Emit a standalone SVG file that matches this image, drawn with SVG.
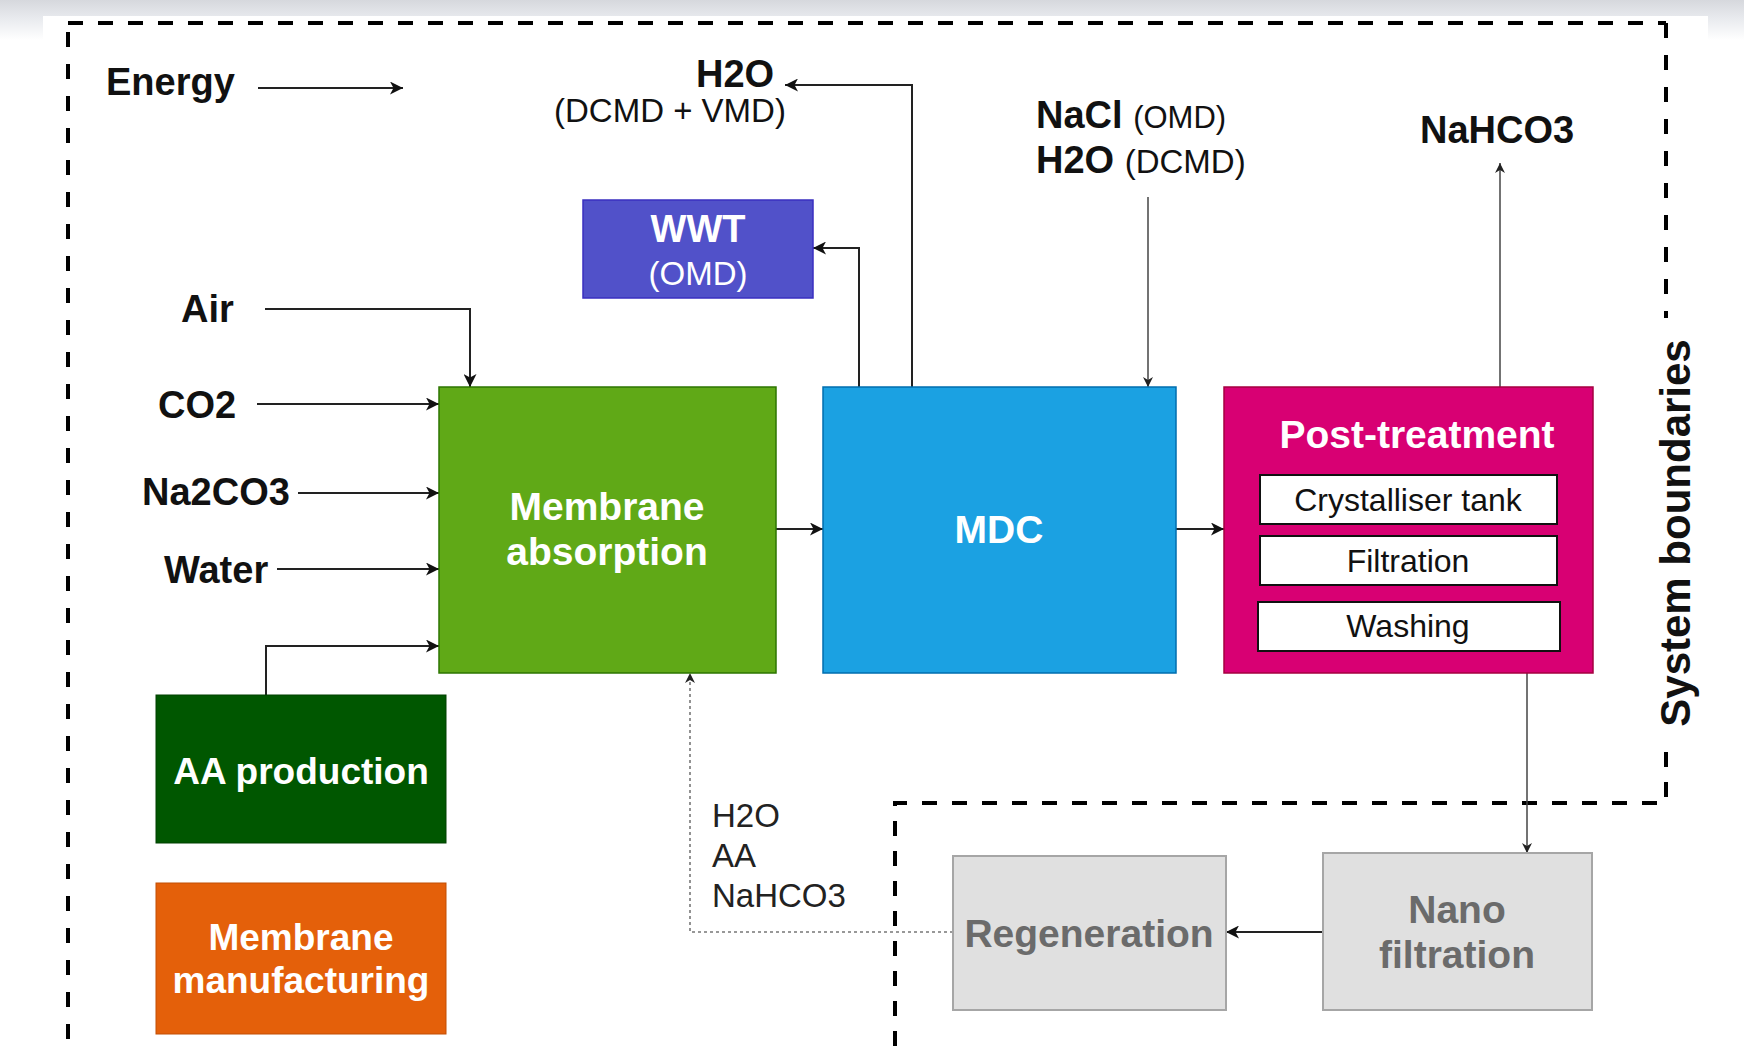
<svg xmlns="http://www.w3.org/2000/svg" width="1744" height="1047" viewBox="0 0 1744 1047">
  <defs>
    <linearGradient id="topband" x1="0" y1="0" x2="0" y2="1">
      <stop offset="0" stop-color="#d6d8dd"/>
      <stop offset="0.45" stop-color="#e8eaee"/>
      <stop offset="1" stop-color="#ffffff"/>
    </linearGradient>
    <marker id="arr" markerUnits="userSpaceOnUse" markerWidth="14" markerHeight="13" refX="13" refY="6.5" orient="auto">
      <path d="M0,0 L13,6.5 L0,13 L3.5,6.5 z" fill="#111"/>
    </marker>
    <marker id="arrs" markerUnits="userSpaceOnUse" markerWidth="11" markerHeight="10" refX="10" refY="5" orient="auto">
      <path d="M0,0 L10,5 L0,10 L3,5 z" fill="#222"/>
    </marker>
    <style>
      .lbl { font-family: "Liberation Sans", Arial, sans-serif; font-weight: bold; font-size: 38px; fill: #111; }
      .sub { font-family: "Liberation Sans", Arial, sans-serif; font-weight: normal; font-size: 33px; fill: #111; }
      .nt { font-family: "Liberation Sans", Arial, sans-serif; font-weight: bold; font-size: 39px; fill: #ffffff; text-anchor: middle; }
      .nt36 { font-size: 37px; }
      .nts { font-family: "Liberation Sans", Arial, sans-serif; font-weight: normal; font-size: 33px; fill: #ffffff; text-anchor: middle; }
      .inner { font-family: "Liberation Sans", Arial, sans-serif; font-size: 32px; fill: #111; text-anchor: middle; }
      .gt { font-family: "Liberation Sans", Arial, sans-serif; font-weight: bold; font-size: 39px; fill: #6b6b6b; text-anchor: middle; }
      .conn { fill: none; stroke: #222; stroke-width: 2; }
      .thin { fill: none; stroke: #444; stroke-width: 1.5; }
      .bnd { fill: none; stroke: #000; stroke-width: 4; }
    </style>
  </defs>

  <!-- background -->
  <rect x="0" y="0" width="1744" height="1047" fill="#ffffff"/>
  <rect x="0" y="0" width="1744" height="40" fill="url(#topband)"/>
  <rect x="43" y="16" width="1665" height="1031" fill="#ffffff"/>

  <!-- system boundary -->
  <g id="system-boundary">
    <path class="bnd" d="M68,23 H1666" stroke-dasharray="15 15"/>
    <path class="bnd" d="M68,32 V1047" stroke-dasharray="15 17"/>
    <path class="bnd" d="M1666,23 V318" stroke-dasharray="15 17"/>
    <path class="bnd" d="M1666,752 V803 H895 V1047" stroke-dasharray="15 15"/>
    <text x="1690" y="533" transform="rotate(-90 1690 533)" font-family="Liberation Sans, Arial, sans-serif" font-weight="bold" font-size="42" fill="#111" text-anchor="middle">System  boundaries</text>
  </g>

  <!-- connectors -->
  <g id="connectors">
    <path class="conn" d="M258,88 H403" marker-end="url(#arr)"/>
    <path class="conn" d="M912,387 V85 H785" marker-end="url(#arr)"/>
    <path class="conn" d="M859,387 V248 H813" marker-end="url(#arr)"/>
    <path class="thin" d="M1148,197 V387" marker-end="url(#arrs)"/>
    <path class="thin" d="M1500,387 V163" marker-end="url(#arrs)"/>
    <path class="conn" d="M265,309 H470 V387" marker-end="url(#arr)"/>
    <path class="conn" d="M257,404 H439" marker-end="url(#arr)"/>
    <path class="conn" d="M298,493 H439" marker-end="url(#arr)"/>
    <path class="conn" d="M277,569 H439" marker-end="url(#arr)"/>
    <path class="conn" d="M266,695 V646 H439" marker-end="url(#arr)"/>
    <path class="conn" d="M776,529 H823" marker-end="url(#arr)"/>
    <path class="conn" d="M1176,529 H1224" marker-end="url(#arr)"/>
    <path class="thin" d="M1527,673 V853" marker-end="url(#arrs)"/>
    <path class="conn" d="M1323,932 H1226" marker-end="url(#arr)"/>
    <path fill="none" stroke="#777" stroke-width="1.6" stroke-dasharray="3 3" d="M953,932 H690 V673" marker-end="url(#arrs)"/>
  </g>

  <!-- free labels -->
  <g id="labels">
    <text class="lbl" x="106" y="95">Energy</text>
    <text class="lbl" x="696" y="87">H2O</text>
    <text class="sub" x="554" y="122">(DCMD + VMD)</text>
    <text class="lbl" x="1036" y="128">NaCl <tspan class="sub" style="font-size:31px">(OMD)</tspan></text>
    <text class="lbl" x="1036" y="173">H2O <tspan class="sub">(DCMD)</tspan></text>
    <text class="lbl" x="1420" y="143">NaHCO3</text>
    <text class="lbl" x="181" y="322">Air</text>
    <text class="lbl" x="158" y="418">CO2</text>
    <text class="lbl" x="142" y="505">Na2CO3</text>
    <text class="lbl" x="164" y="583">Water</text>
    <text class="sub" x="712" y="827" style="fill:#222">H2O</text>
    <text class="sub" x="712" y="867" style="fill:#222">AA</text>
    <text class="sub" x="712" y="907" style="fill:#222">NaHCO3</text>
  </g>

  <!-- nodes -->
  <g id="wwt">
    <rect x="583" y="200" width="230" height="98" fill="#5151c9" stroke="#3a2fc0" stroke-width="1.5"/>
    <text class="nt" x="698" y="242" style="font-size:38px">WWT</text>
    <text class="nts" x="698" y="285">(OMD)</text>
  </g>

  <g id="membrane-absorption">
    <rect x="439" y="387" width="337" height="286" fill="#60a917" stroke="#2d7600" stroke-width="1.5"/>
    <text class="nt" x="607" y="520">Membrane</text>
    <text class="nt" x="607" y="565">absorption</text>
  </g>

  <g id="mdc">
    <rect x="823" y="387" width="353" height="286" fill="#1ba1e2" stroke="#006eaf" stroke-width="1.5"/>
    <text class="nt" x="999" y="543">MDC</text>
  </g>

  <g id="post-treatment">
    <rect x="1224" y="387" width="369" height="286" fill="#d80073" stroke="#a50040" stroke-width="1.5"/>
    <text class="nt" x="1417" y="448">Post-treatment</text>
    <g id="crystalliser-tank">
      <rect x="1260" y="475" width="297" height="49" fill="#ffffff" stroke="#111" stroke-width="2"/>
      <text class="inner" x="1408" y="511">Crystalliser tank</text>
    </g>
    <g id="filtration">
      <rect x="1260" y="536" width="297" height="49" fill="#ffffff" stroke="#111" stroke-width="2"/>
      <text class="inner" x="1408" y="572">Filtration</text>
    </g>
    <g id="washing">
      <rect x="1258" y="602" width="302" height="49" fill="#ffffff" stroke="#111" stroke-width="2"/>
      <text class="inner" x="1408" y="637">Washing</text>
    </g>
  </g>

  <g id="aa-production">
    <rect x="156" y="695" width="290" height="148" fill="#005700" stroke="#004000" stroke-width="1"/>
    <text class="nt nt36" x="301" y="784">AA production</text>
  </g>

  <g id="membrane-manufacturing">
    <rect x="156" y="883" width="290" height="151" fill="#e4600a" stroke="#c24e05" stroke-width="1"/>
    <text class="nt nt36" x="301" y="950">Membrane</text>
    <text class="nt nt36" x="301" y="993">manufacturing</text>
  </g>

  <g id="regeneration">
    <rect x="953" y="856" width="273" height="154" fill="#e0e0e0" stroke="#a6a6a6" stroke-width="2"/>
    <text class="gt" x="1089" y="947">Regeneration</text>
  </g>

  <g id="nano-filtration">
    <rect x="1323" y="853" width="269" height="157" fill="#e0e0e0" stroke="#a6a6a6" stroke-width="2"/>
    <text class="gt" x="1457" y="923">Nano</text>
    <text class="gt" x="1457" y="968">filtration</text>
  </g>
</svg>
